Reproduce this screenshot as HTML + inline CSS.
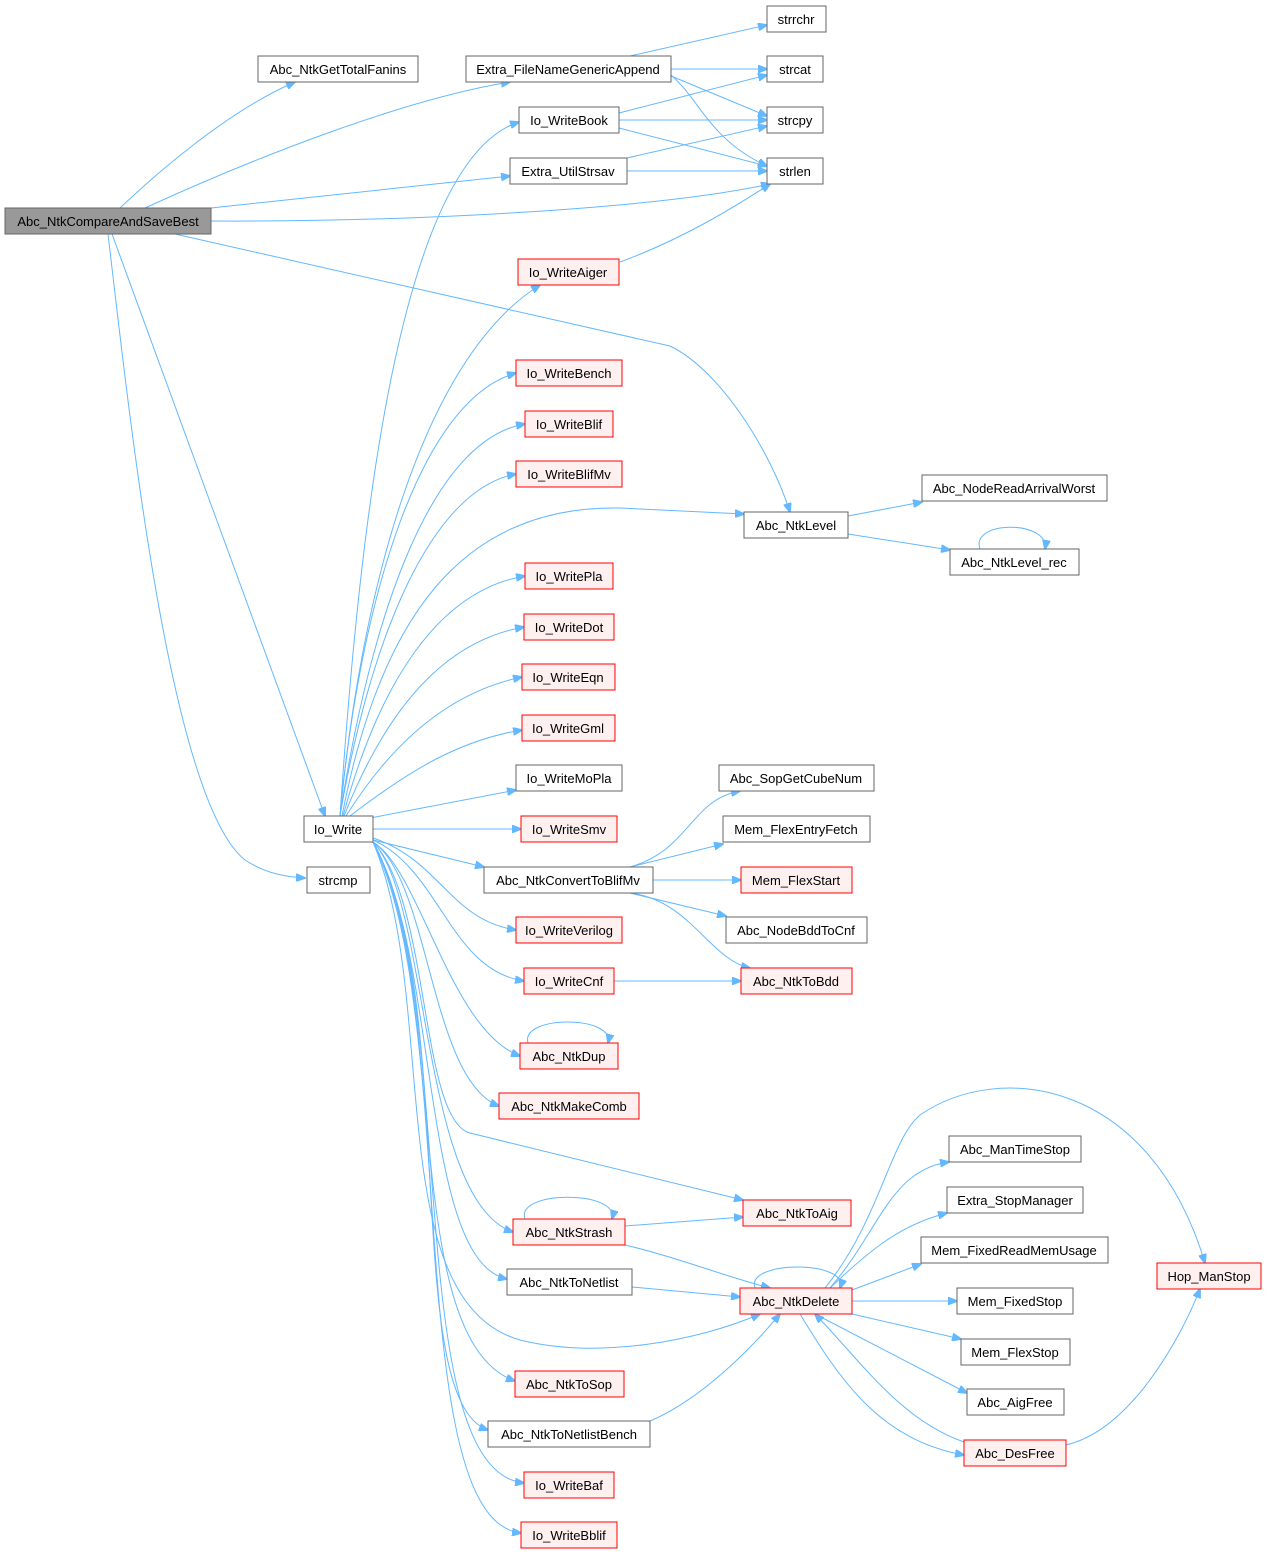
<!DOCTYPE html>
<html><head><meta charset="utf-8"><style>
html,body{margin:0;padding:0;background:#fff;}
svg{display:block;}
text{font-family:"Liberation Sans",Arial,sans-serif;font-size:13px;fill:#000;}
.n rect{fill:#fff;stroke:#666;stroke-width:1;}
.r rect{fill:#fff0f0;stroke:#f00;stroke-width:1;}
.g rect{fill:#999;stroke:#666;stroke-width:1;}
.e path{fill:none;stroke:#63b8ff;stroke-width:1;marker-end:url(#a);}
</style></head><body>
<svg width="1267" height="1555" viewBox="0 0 1267 1555" xmlns="http://www.w3.org/2000/svg">
<defs><marker id="a" markerWidth="10" markerHeight="8" refX="9" refY="4" orient="auto" markerUnits="userSpaceOnUse"><path d="M0,0 L10,4 L0,8 Z" fill="#63b8ff" stroke="#63b8ff"/></marker></defs>
<g class="e">
<path d="M120,208 C160,170 230,110 295,82"/>
<path d="M145,208 C250,160 400,100 510,82"/>
<path d="M211,208 L510,176"/>
<path d="M211,221 C400,222 650,210 770,184"/>
<path d="M175,234 L670,346 C720,370 770,450 790,512"/>
<path d="M112,234 L325,816"/>
<path d="M108,234 C130,420 170,800 245,860 C265,873 285,877 305,878"/>
<path d="M630,56 L767,25"/>
<path d="M671,69 L767,69"/>
<path d="M671,76 L767,116"/>
<path d="M671,75 C700,100 710,140 767,166"/>
<path d="M619,113 L767,75"/>
<path d="M619,120 L767,120"/>
<path d="M619,128 L767,166"/>
<path d="M627,158 L767,126"/>
<path d="M627,171 L767,171"/>
<path d="M620,262 C680,240 730,210 770,184"/>
<path d="M340,816 C360,520 400,160 519,122"/>
<path d="M340,816 C360,600 420,360 540,285"/>
<path d="M340,816 C360,600 420,400 516,373"/>
<path d="M340,816 C370,620 430,440 525,424"/>
<path d="M340,816 C370,640 430,490 516,474"/>
<path d="M342,816 C380,620 460,505 620,508 L744,514"/>
<path d="M343,816 C380,680 440,590 525,576"/>
<path d="M344,816 C390,700 450,640 524,627"/>
<path d="M346,816 C400,730 460,690 522,677"/>
<path d="M350,816 C410,770 460,740 522,730"/>
<path d="M370,818 L516,790"/>
<path d="M373,829 L521,829"/>
<path d="M373,840 L484,867"/>
<path d="M373,838 C440,860 450,920 516,930"/>
<path d="M373,840 C440,870 450,970 524,981"/>
<path d="M373,842 C420,870 450,1030 520,1056"/>
<path d="M373,842 C430,880 430,1080 499,1106"/>
<path d="M373,842 C430,900 420,1120 470,1133 L743,1200"/>
<path d="M373,842 C430,900 420,1200 513,1232"/>
<path d="M373,842 C440,960 420,1260 507,1279"/>
<path d="M373,842 C440,1000 380,1300 520,1340 C600,1360 700,1340 760,1314"/>
<path d="M373,842 C450,1000 400,1340 515,1381"/>
<path d="M373,842 C460,1000 400,1400 488,1430"/>
<path d="M373,842 C460,1000 400,1470 524,1483"/>
<path d="M373,842 C460,1000 400,1520 521,1533"/>
<path d="M630,867 C690,850 690,800 740,791"/>
<path d="M630,867 L723,844"/>
<path d="M653,880 L741,880"/>
<path d="M630,893 L726,916"/>
<path d="M630,893 C690,900 710,960 750,968"/>
<path d="M614,981 L741,981"/>
<path d="M528,1043 C520,1015 615,1015 608,1043"/>
<path d="M525,1219 C515,1190 620,1190 612,1219"/>
<path d="M625,1226 L743,1217"/>
<path d="M625,1245 C680,1258 720,1275 770,1288"/>
<path d="M632,1287 L740,1297"/>
<path d="M650,1421 C700,1400 750,1350 780,1314"/>
<path d="M848,516 L922,502"/>
<path d="M848,534 L950,550"/>
<path d="M980,549 C970,520 1050,520 1045,549"/>
<path d="M755,1288 C745,1260 850,1260 840,1288"/>
<path d="M830,1288 C880,1230 890,1170 949,1162"/>
<path d="M830,1288 C870,1250 900,1225 947,1213"/>
<path d="M852,1290 L921,1264"/>
<path d="M852,1301 L957,1301"/>
<path d="M852,1314 L961,1339"/>
<path d="M815,1314 L967,1393"/>
<path d="M800,1314 C840,1380 880,1440 964,1455"/>
<path d="M964,1442 C900,1420 860,1360 815,1314"/>
<path d="M825,1288 C880,1220 890,1140 920,1115 C1000,1060 1150,1080 1205,1263"/>
<path d="M1066,1445 C1130,1430 1180,1340 1200,1289"/>
</g>
<g text-anchor="middle">
<g class="g"><rect x="5" y="208" width="206" height="26"/><text x="108" y="226">Abc_NtkCompareAndSaveBest</text></g>
<g class="n"><rect x="258" y="56" width="160" height="26"/><text x="338" y="74">Abc_NtkGetTotalFanins</text></g>
<g class="n"><rect x="466" y="56" width="205" height="26"/><text x="568" y="74">Extra_FileNameGenericAppend</text></g>
<g class="n"><rect x="767" y="6" width="59" height="26"/><text x="796" y="24">strrchr</text></g>
<g class="n"><rect x="767" y="56" width="56" height="26"/><text x="795" y="74">strcat</text></g>
<g class="n"><rect x="767" y="107" width="56" height="26"/><text x="795" y="125">strcpy</text></g>
<g class="n"><rect x="767" y="158" width="56" height="26"/><text x="795" y="176">strlen</text></g>
<g class="n"><rect x="519" y="107" width="100" height="26"/><text x="569" y="125">Io_WriteBook</text></g>
<g class="n"><rect x="510" y="158" width="117" height="26"/><text x="568" y="176">Extra_UtilStrsav</text></g>
<g class="r"><rect x="518" y="259" width="101" height="26"/><text x="568" y="277">Io_WriteAiger</text></g>
<g class="r"><rect x="516" y="360" width="106" height="26"/><text x="569" y="378">Io_WriteBench</text></g>
<g class="r"><rect x="525" y="411" width="88" height="26"/><text x="569" y="429">Io_WriteBlif</text></g>
<g class="r"><rect x="516" y="461" width="106" height="26"/><text x="569" y="479">Io_WriteBlifMv</text></g>
<g class="n"><rect x="744" y="512" width="104" height="26"/><text x="796" y="530">Abc_NtkLevel</text></g>
<g class="n"><rect x="922" y="475" width="185" height="26"/><text x="1014" y="493">Abc_NodeReadArrivalWorst</text></g>
<g class="n"><rect x="950" y="549" width="129" height="26"/><text x="1014" y="567">Abc_NtkLevel_rec</text></g>
<g class="r"><rect x="525" y="563" width="88" height="26"/><text x="569" y="581">Io_WritePla</text></g>
<g class="r"><rect x="524" y="614" width="90" height="26"/><text x="569" y="632">Io_WriteDot</text></g>
<g class="r"><rect x="522" y="664" width="93" height="26"/><text x="568" y="682">Io_WriteEqn</text></g>
<g class="r"><rect x="522" y="715" width="93" height="26"/><text x="568" y="733">Io_WriteGml</text></g>
<g class="n"><rect x="516" y="765" width="106" height="26"/><text x="569" y="783">Io_WriteMoPla</text></g>
<g class="n"><rect x="304" y="816" width="69" height="26"/><text x="338" y="834">Io_Write</text></g>
<g class="r"><rect x="521" y="816" width="96" height="26"/><text x="569" y="834">Io_WriteSmv</text></g>
<g class="n"><rect x="719" y="765" width="155" height="26"/><text x="796" y="783">Abc_SopGetCubeNum</text></g>
<g class="n"><rect x="723" y="816" width="147" height="26"/><text x="796" y="834">Mem_FlexEntryFetch</text></g>
<g class="n"><rect x="307" y="867" width="63" height="26"/><text x="338" y="885">strcmp</text></g>
<g class="n"><rect x="484" y="867" width="169" height="26"/><text x="568" y="885">Abc_NtkConvertToBlifMv</text></g>
<g class="r"><rect x="741" y="867" width="111" height="26"/><text x="796" y="885">Mem_FlexStart</text></g>
<g class="n"><rect x="726" y="917" width="141" height="26"/><text x="796" y="935">Abc_NodeBddToCnf</text></g>
<g class="r"><rect x="516" y="917" width="106" height="26"/><text x="569" y="935">Io_WriteVerilog</text></g>
<g class="r"><rect x="524" y="968" width="90" height="26"/><text x="569" y="986">Io_WriteCnf</text></g>
<g class="r"><rect x="741" y="968" width="111" height="26"/><text x="796" y="986">Abc_NtkToBdd</text></g>
<g class="r"><rect x="520" y="1043" width="98" height="26"/><text x="569" y="1061">Abc_NtkDup</text></g>
<g class="r"><rect x="499" y="1093" width="140" height="26"/><text x="569" y="1111">Abc_NtkMakeComb</text></g>
<g class="n"><rect x="949" y="1136" width="132" height="26"/><text x="1015" y="1154">Abc_ManTimeStop</text></g>
<g class="n"><rect x="947" y="1187" width="136" height="26"/><text x="1015" y="1205">Extra_StopManager</text></g>
<g class="r"><rect x="743" y="1200" width="108" height="26"/><text x="797" y="1218">Abc_NtkToAig</text></g>
<g class="r"><rect x="513" y="1219" width="112" height="26"/><text x="569" y="1237">Abc_NtkStrash</text></g>
<g class="n"><rect x="921" y="1237" width="187" height="26"/><text x="1014" y="1255">Mem_FixedReadMemUsage</text></g>
<g class="r"><rect x="1157" y="1263" width="104" height="26"/><text x="1209" y="1281">Hop_ManStop</text></g>
<g class="n"><rect x="507" y="1269" width="125" height="26"/><text x="569" y="1287">Abc_NtkToNetlist</text></g>
<g class="r"><rect x="740" y="1288" width="112" height="26"/><text x="796" y="1306">Abc_NtkDelete</text></g>
<g class="n"><rect x="957" y="1288" width="116" height="26"/><text x="1015" y="1306">Mem_FixedStop</text></g>
<g class="n"><rect x="961" y="1339" width="109" height="26"/><text x="1015" y="1357">Mem_FlexStop</text></g>
<g class="r"><rect x="515" y="1371" width="109" height="26"/><text x="569" y="1389">Abc_NtkToSop</text></g>
<g class="n"><rect x="967" y="1389" width="97" height="26"/><text x="1015" y="1407">Abc_AigFree</text></g>
<g class="n"><rect x="488" y="1421" width="162" height="26"/><text x="569" y="1439">Abc_NtkToNetlistBench</text></g>
<g class="r"><rect x="964" y="1440" width="102" height="26"/><text x="1015" y="1458">Abc_DesFree</text></g>
<g class="r"><rect x="524" y="1472" width="90" height="26"/><text x="569" y="1490">Io_WriteBaf</text></g>
<g class="r"><rect x="521" y="1522" width="96" height="26"/><text x="569" y="1540">Io_WriteBblif</text></g>
</g>
</svg>
</body></html>
